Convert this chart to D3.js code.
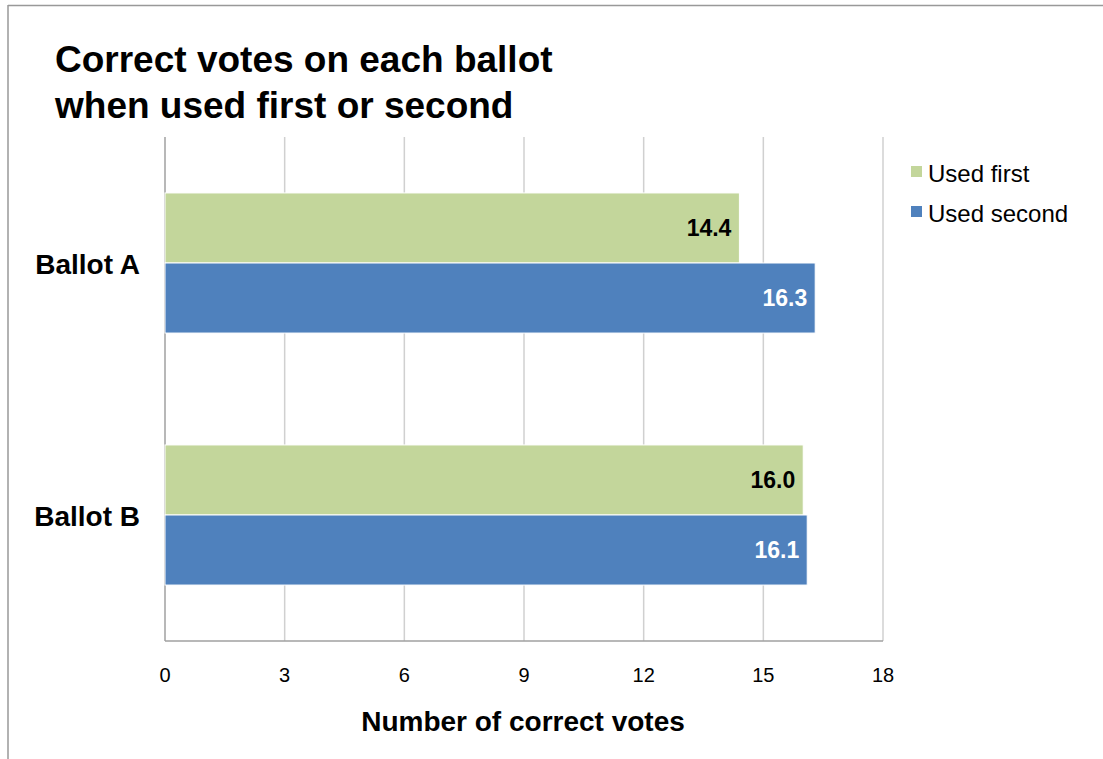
<!DOCTYPE html>
<html>
<head>
<meta charset="utf-8">
<script src="https://cdn.jsdelivr.net/npm/d3@7"></script>
<style>
  body { margin: 0; background: #fff; }
  text { font-family: "Liberation Sans", Arial, sans-serif; }
</style>
</head>
<body>
<script>
// chart data
var ballots = ['Ballot A', 'Ballot B'];
var seriesNames = ['Used first', 'Used second'];
var usedFirst = [14.4, 16.0];
var usedSecond = [16.3, 16.1];
var xTicks = [0, 3, 6, 9, 12, 15, 18];

var colors = {'Used first': '#c3d69b', 'Used second': '#4f81bd'};
var labelColors = {'Used first': '#000', 'Used second': '#fff'};

var width = 1103, height = 759;
var plot = {left: 165, right: 883, top: 137, bottom: 641};

var svg = d3.select('body').append('svg')
  .attr('width', width)
  .attr('height', height);

// outer frame (only top and left edges visible)
svg.append('line')
  .attr('x1', 8).attr('x2', width).attr('y1', 5.5).attr('y2', 5.5)
  .attr('stroke', '#999').attr('stroke-width', 1.5);
svg.append('line')
  .attr('x1', 8).attr('x2', 8).attr('y1', 5).attr('y2', height)
  .attr('stroke', '#999').attr('stroke-width', 1.5);

// title
var title = svg.append('text')
  .attr('x', 55)
  .style('font-size', '37px')
  .style('font-weight', 'bold')
  .attr('fill', '#000');
title.append('tspan').attr('x', 55).attr('y', 72).text('Correct votes on each ballot');
title.append('tspan').attr('x', 55).attr('y', 118).text('when used first or second');

var x = d3.scaleLinear()
  .domain([0, 18])
  .range([plot.left, plot.right]);

var y = d3.scaleBand()
  .domain(ballots)
  .range([plot.top, plot.bottom])
  .paddingInner(0.444)
  .paddingOuter(0.222);

var ySeries = d3.scaleBand()
  .domain(seriesNames)
  .range([0, y.bandwidth()]);

// gridlines
svg.append('g')
  .selectAll('line')
  .data(xTicks)
  .enter()
  .append('line')
  .attr('x1', function(d) { return x(d); })
  .attr('x2', function(d) { return x(d); })
  .attr('y1', plot.top)
  .attr('y2', plot.bottom)
  .attr('stroke', function(d) { return d === 0 ? '#a0a0a0' : '#d0d0d0'; })
  .attr('stroke-width', 1.5);

// bottom axis line
svg.append('line')
  .attr('x1', plot.left).attr('x2', plot.right)
  .attr('y1', plot.bottom).attr('y2', plot.bottom)
  .attr('stroke', '#a0a0a0').attr('stroke-width', 1.5);

// tick labels
svg.append('g')
  .selectAll('text')
  .data(xTicks)
  .enter()
  .append('text')
  .attr('x', function(d) { return x(d); })
  .attr('y', 682)
  .attr('text-anchor', 'middle')
  .style('font-size', '20px')
  .attr('fill', '#000')
  .text(function(d) { return d; });

// axis title
svg.append('text')
  .attr('x', (plot.left + plot.right) / 2 - 1)
  .attr('y', 731)
  .attr('text-anchor', 'middle')
  .style('font-size', '28px')
  .style('font-weight', 'bold')
  .attr('fill', '#000')
  .text('Number of correct votes');

// flatten rows
var rows = [];
ballots.forEach(function(b, i) {
  rows.push({ballot: b, series: 'Used first', value: usedFirst[i]});
  rows.push({ballot: b, series: 'Used second', value: usedSecond[i]});
});

// bars
svg.append('g')
  .selectAll('rect')
  .data(rows)
  .enter()
  .append('rect')
  .attr('x', x(0))
  .attr('y', function(d) { return y(d.ballot) + ySeries(d.series); })
  .attr('width', function(d) { return x(d.value) - x(0); })
  .attr('height', ySeries.bandwidth())
  .attr('fill', function(d) { return colors[d.series]; })
  .attr('stroke', '#fff')
  .attr('stroke-width', 1);

// value labels
svg.append('g')
  .selectAll('text')
  .data(rows)
  .enter()
  .append('text')
  .attr('x', function(d) { return x(d.value) - 8; })
  .attr('y', function(d) { return y(d.ballot) + ySeries(d.series) + ySeries.bandwidth() / 2 + 8; })
  .attr('text-anchor', 'end')
  .style('font-size', '23px')
  .style('font-weight', 'bold')
  .attr('fill', function(d) { return labelColors[d.series]; })
  .text(function(d) { return d.value.toFixed(1); });

// category labels
svg.append('g')
  .selectAll('text')
  .data(ballots)
  .enter()
  .append('text')
  .attr('x', 140)
  .attr('y', function(d) { return y(d) + y.bandwidth() / 2 + 11; })
  .attr('text-anchor', 'end')
  .style('font-size', '28px')
  .style('font-weight', 'bold')
  .attr('fill', '#000')
  .text(function(d) { return d; });

// legend
var legend = svg.append('g')
  .selectAll('g')
  .data(seriesNames)
  .enter()
  .append('g')
  .attr('transform', function(d, i) { return 'translate(911,' + (166 + i * 40) + ')'; });

legend.append('rect')
  .attr('width', 11)
  .attr('height', 11)
  .attr('fill', function(d) { return colors[d]; });

legend.append('text')
  .attr('x', 17)
  .attr('y', 15.5)
  .style('font-size', '24px')
  .attr('fill', '#000')
  .text(function(d) { return d; });
</script>
</body>
</html>
